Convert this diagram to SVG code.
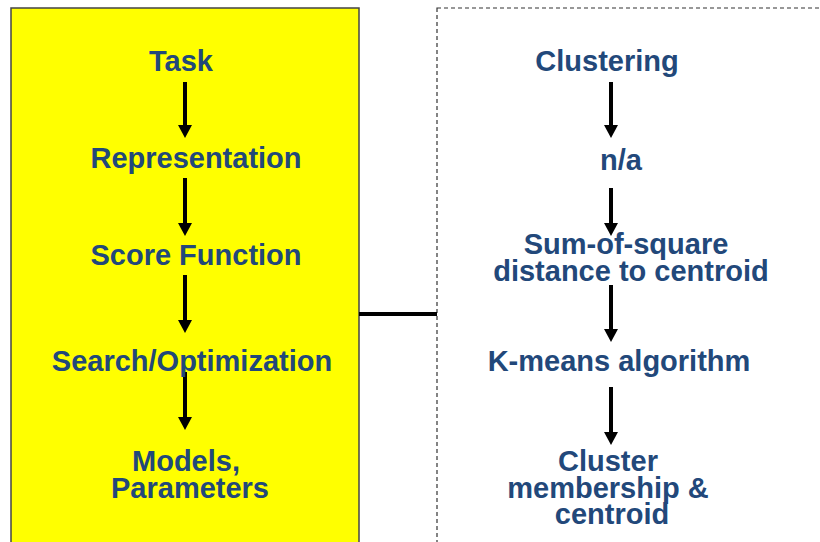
<svg xmlns="http://www.w3.org/2000/svg" width="820" height="542" viewBox="0 0 820 542">
<defs>
<style>
.t{font-family:"Liberation Sans",Arial,sans-serif;font-weight:bold;font-size:29px;fill:#22487A;text-anchor:middle}
.a{stroke:#000;stroke-width:4;fill:none}
</style>
</defs>
<rect width="820" height="542" fill="#fff"/>
<g id="left-panel">
<rect x="11" y="8" width="348" height="540" fill="#FFFF00" stroke="#444" stroke-width="1.5"/>
</g>
<g id="right-panel">
<rect x="437" y="8" width="400" height="540" fill="#fff" stroke="#333" stroke-width="1.2" stroke-dasharray="4,3"/>
</g>
<g id="connectors">
<line x1="359" y1="314" x2="437" y2="314" stroke="#000" stroke-width="4"/>
<path class="a" d="M185,82 V125"/><path d="M178,125 L192,125 L185,138 Z"/>
<path class="a" d="M185,178 V223"/><path d="M178,223 L192,223 L185,236 Z"/>
<path class="a" d="M185,275 V320"/><path d="M178,320 L192,320 L185,333 Z"/>
<path class="a" d="M185,372 V417"/><path d="M178,417 L192,417 L185,430 Z"/>
<path class="a" d="M611,82 V125"/><path d="M604,125 L618,125 L611,138 Z"/>
<path class="a" d="M611,188 V223"/><path d="M604,223 L618,223 L611,236 Z"/>
<path class="a" d="M611,285 V329"/><path d="M604,329 L618,329 L611,342 Z"/>
<path class="a" d="M611,387 V432"/><path d="M604,432 L618,432 L611,445 Z"/>
</g>
<g id="task"><text class="t" x="181" y="71">Task</text></g>
<g id="representation"><text class="t" x="196" y="168">Representation</text></g>
<g id="score-function"><text class="t" x="196" y="265">Score Function</text></g>
<g id="search-optimization"><text class="t" x="192" y="371">Search/Optimization</text></g>
<g id="models-parameters"><text class="t" x="186" y="471">Models,</text><text class="t" x="190" y="498">Parameters</text></g>
<g id="clustering"><text class="t" x="607" y="71">Clustering</text></g>
<g id="na"><text class="t" x="621" y="170">n/a</text></g>
<g id="sum-of-square"><text class="t" x="626" y="254">Sum-of-square</text><text class="t" x="631" y="281">distance to centroid</text></g>
<g id="kmeans"><text class="t" x="619" y="371">K-means algorithm</text></g>
<g id="cluster-membership"><text class="t" x="608" y="471">Cluster</text><text class="t" x="608" y="498">membership &amp;</text><text class="t" x="612" y="524">centroid</text></g>
</svg>
